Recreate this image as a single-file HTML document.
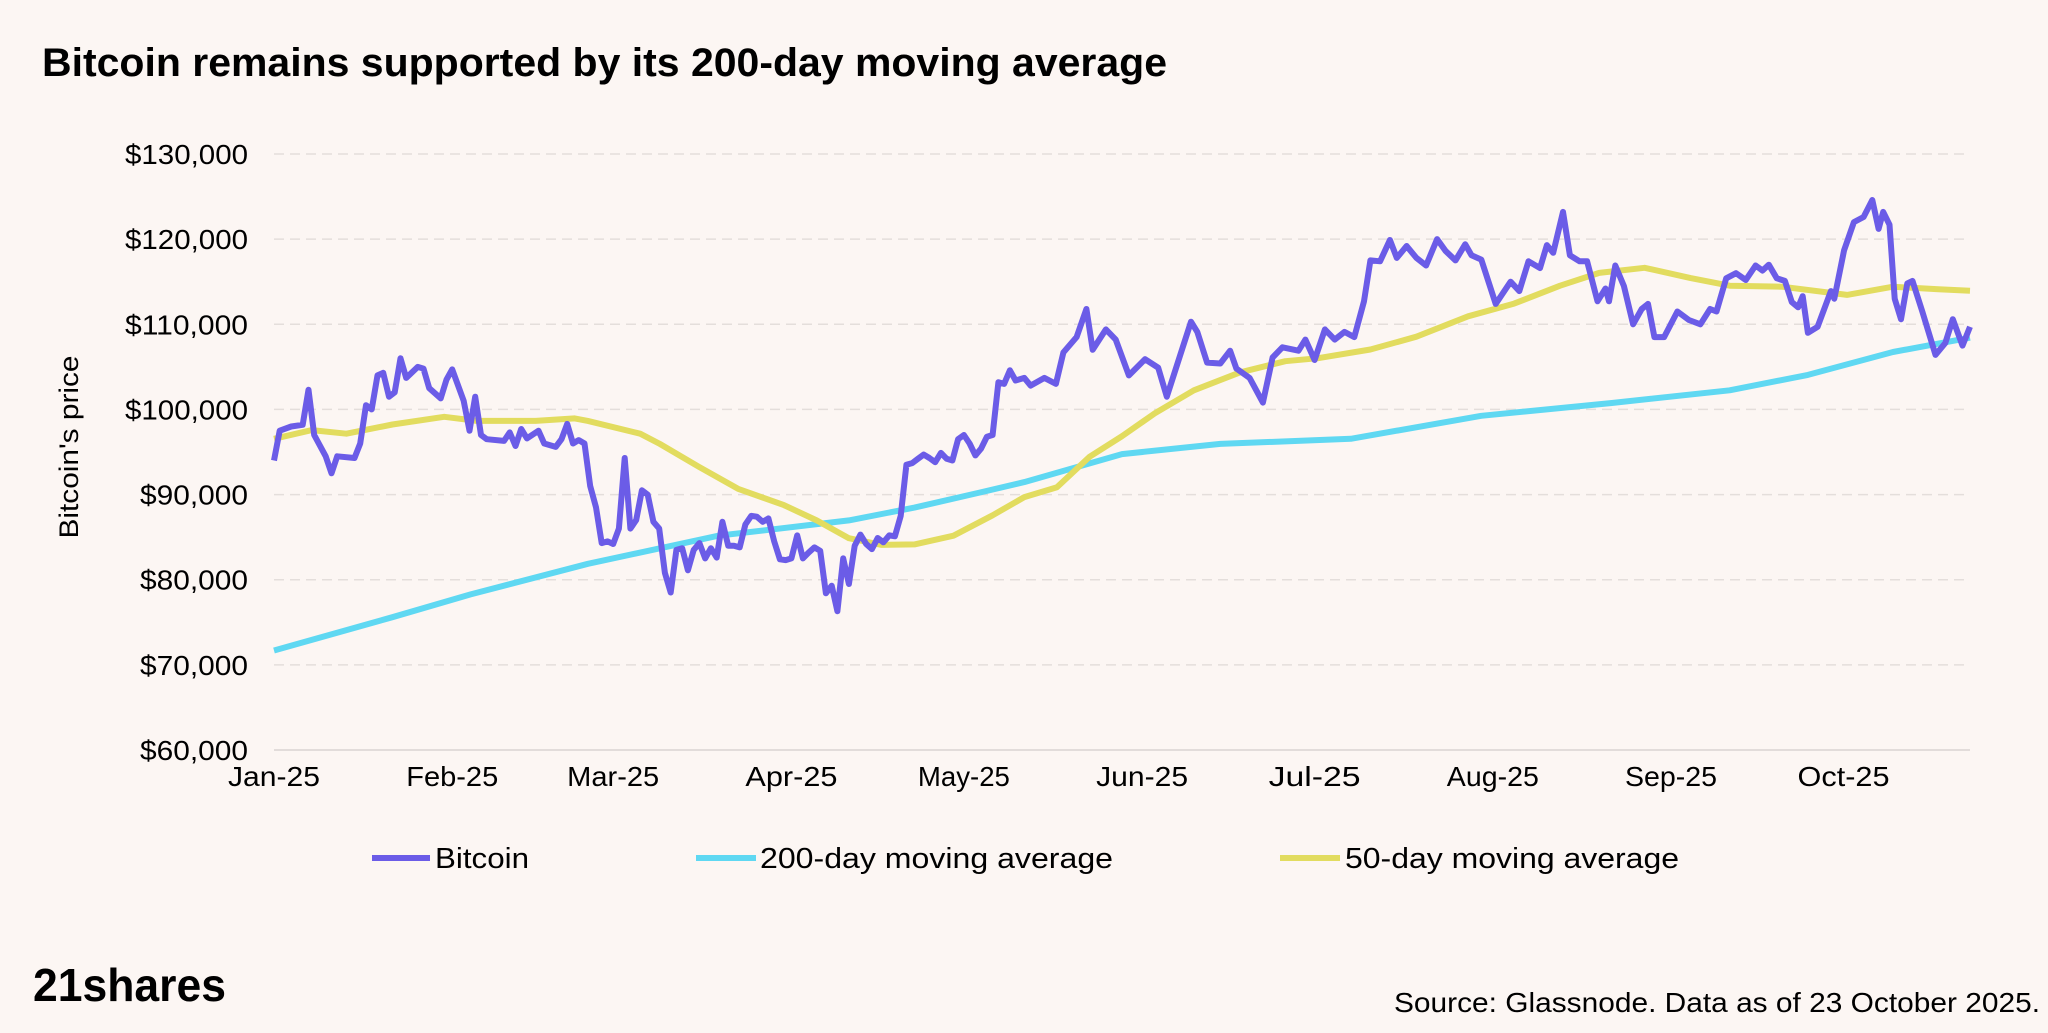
<!DOCTYPE html>
<html><head><meta charset="utf-8"><style>
html,body{margin:0;padding:0;background:#fcf6f3;}
body{width:2048px;height:1028px;overflow:hidden;font-family:"Liberation Sans",sans-serif;}
</style></head><body>
<svg width="2048" height="1028" xmlns="http://www.w3.org/2000/svg">
<rect width="2048" height="1028" fill="#fcf6f3"/>
<text x="42" y="76" font-size="40" font-weight="bold" fill="#000" textLength="1125" lengthAdjust="spacingAndGlyphs">Bitcoin remains supported by its 200-day moving average</text>
<g id="grid"></g>
<g id="yticks"></g>
<g id="xticks"></g>
<text transform="translate(78,447) rotate(-90)" text-anchor="middle" font-size="27" fill="#000" textLength="183" lengthAdjust="spacingAndGlyphs">Bitcoin's price</text>
<g id="series"></g>
<g>
<g><line x1="372" y1="858" x2="430" y2="858" stroke="#6b5ce7" stroke-width="6"/><text x="435" y="868" font-size="29" textLength="94" lengthAdjust="spacingAndGlyphs">Bitcoin</text></g>
<g><line x1="696" y1="858" x2="756" y2="858" stroke="#5fd8f2" stroke-width="6"/><text x="760" y="868" font-size="29" textLength="353" lengthAdjust="spacingAndGlyphs">200-day moving average</text></g>
<g><line x1="1280" y1="858" x2="1340" y2="858" stroke="#e2dc5f" stroke-width="6"/><text x="1345" y="868" font-size="29" textLength="334" lengthAdjust="spacingAndGlyphs">50-day moving average</text></g>
</g>
<text x="33" y="1001" font-size="46" font-weight="bold" fill="#000" textLength="193" lengthAdjust="spacingAndGlyphs">21shares</text>
<text x="2040" y="1012" text-anchor="end" font-size="28" fill="#000" textLength="646" lengthAdjust="spacingAndGlyphs">Source: Glassnode. Data as of 23 October 2025.</text>
</svg>
<script>
const yTicks=[60000,70000,80000,90000,100000,110000,120000,130000];
const xTickLabels=["Jan-25","Feb-25","Mar-25","Apr-25","May-25","Jun-25","Jul-25","Aug-25","Sep-25","Oct-25"];
const xTickDays=[0,31,59,90,120,151,181,212,243,273];
const btcDays=[0,1,3,5,6,7,9,10,11,14,15,16,17,18,19,20,21,22,23,25,26,27,29,30,31,33,34,35,36,37,40,41,42,43,44,46,47,49,50,51,52,53,54,55,56,57,58,59,60,61,62,63,64,65,66,67,68,69,70,71,72,73,74,75,76,77,78,79,80,81,82,83,84,85,86,87,88,89,90,91,92,93,94,95,96,97,98,99,100,101,102,103,104,105,106,107,108,109,110,111,112,113,114,115,116,117,118,119,120,121,122,123,124,125,126,127,128,129,130.5,131.6,134,136,137.3,139.6,141.3,142.4,144.7,146.4,148.7,151.5,153.8,155.3,157.2,159.5,160.6,162.3,164.6,166.3,167.4,169.7,172,173.7,175.4,178.2,179.4,181,182.8,184.5,186.2,187.9,189.6,190.7,192.4,194.1,195.3,197,198.7,200.4,202.3,203.8,205.5,207.2,208.3,210,212.5,215.1,216.6,218.2,220.2,221.4,222.5,224.2,225.4,227.1,228.4,230.2,231.6,232.2,233.3,234.8,236.4,237.9,239,240.1,241.8,244.1,246.1,248.1,249.8,250.9,252.6,254.3,256,257.7,258.9,260,261.4,262.8,264,265.1,265.9,266.8,268.5,270.8,271.4,273.1,274.8,276.5,278,279.1,279.9,281,281.9,283,284.1,285,286.7,289,290.7,292,293.7,295];
const btcValues=[94000,97500,98000,98200,102300,97000,94500,92500,94500,94300,96000,100500,100000,104000,104300,101500,102000,106000,103700,105000,104800,102500,101300,103500,104700,101000,97500,101500,97000,96500,96300,97300,95700,97700,96600,97500,96000,95600,96500,98300,96000,96400,96000,91000,88500,84300,84500,84200,86000,94300,86000,87000,90500,90000,86800,86000,80800,78500,83500,83700,81100,83500,84300,82500,83700,82600,86800,84000,84000,83800,86500,87500,87400,86800,87200,84500,82400,82300,82500,85200,82500,83200,83800,83400,78400,79300,76300,82500,79500,84000,85300,84200,83600,84900,84400,85200,85100,87500,93500,93700,94200,94700,94300,93800,94900,94200,94000,96500,97000,96000,94600,95400,96800,97000,103200,103000,104600,103400,103700,102800,103700,103000,106700,108500,111800,107000,109400,108200,104000,105900,104900,101500,105500,110300,109100,105500,105400,106900,104800,103700,100800,106100,107300,106900,108200,105800,109400,108200,109100,108500,112700,117500,117400,119900,117800,119200,117800,116900,120000,118600,117500,119400,118100,117600,112400,115000,113900,117400,116600,119300,118400,123200,118100,117400,117400,112700,114200,112700,116900,114500,110000,111800,112400,108500,108500,111500,110500,110000,111800,111500,115400,116000,115200,116900,116300,117000,115400,115100,112600,112000,113300,109000,109700,113900,113000,118700,122000,122600,124600,121200,123200,121700,113000,110600,114800,115100,111500,106400,107800,110600,107500,109700];
const ma200Days=[0,20.6,34.2,54.6,77.3,100,111.4,122.8,130.5,147.5,164.6,187.3,210,232.7,253.2,266.8,281.6,295];
const ma200Values=[71690,75600,78280,81870,85170,86970,88470,90240,91460,94750,95950,96550,99250,100750,102250,104050,106740,108420];
const ma50Days=[0,6.6,12.6,20.6,29.6,35.3,45.5,52.3,54.6,63.7,67.1,73.9,80.7,88.7,94.4,100,105.7,111.4,118.2,125,130.5,136.2,141.9,147.5,153.2,160,168,175.9,181.6,190.7,198.7,207.7,215.7,223.7,230.5,238.4,246.4,253.2,262.3,273.6,281.6,289.5,295];
const ma50Values=[96550,97570,97150,98230,99130,98650,98650,98950,98650,97150,95950,93260,90680,88760,86970,84870,84090,84150,85170,87570,89700,90860,94460,96860,99550,102250,104350,105660,106020,107040,108540,110940,112430,114530,116030,116630,115430,114530,114410,113450,114410,114110,113930];

const X0=274,X1=1970,DAYS=295,Y0=750,Y1=154,VMIN=60000,VMAX=130000;
const xs=d=>X0+(d/DAYS)*(X1-X0);
const ys=v=>Y0-(v-VMIN)/(VMAX-VMIN)*(Y0-Y1);
const NS="http://www.w3.org/2000/svg";
const grid=document.getElementById('grid'),yt=document.getElementById('yticks'),xt=document.getElementById('xticks'),ser=document.getElementById('series');
yTicks.forEach((v,i)=>{
  const l=document.createElementNS(NS,'line');
  l.setAttribute('x1',X0);l.setAttribute('x2',X1);l.setAttribute('y1',ys(v));l.setAttribute('y2',ys(v));
  l.setAttribute('stroke',i===0?'#d9d4d2':'#e4dedb');l.setAttribute('stroke-width','1.5');
  if(i>0)l.setAttribute('stroke-dasharray','10,6');
  
  
  grid.appendChild(l);
  const t=document.createElementNS(NS,'text');
  const s='$'+v.toLocaleString('en-US');
  t.setAttribute('x',248);t.setAttribute('y',ys(v)+10);t.setAttribute('text-anchor','end');t.setAttribute('font-size','28');
  t.setAttribute('textLength',(15.4*s.length).toFixed(0));t.setAttribute('lengthAdjust','spacingAndGlyphs');
  t.textContent=s;
  
  
  yt.appendChild(t);
});
xTickLabels.forEach((s,i)=>{
  const t=document.createElementNS(NS,'text');
  t.setAttribute('x',xs(xTickDays[i]));t.setAttribute('y',786);t.setAttribute('text-anchor','middle');t.setAttribute('font-size','28');
  t.setAttribute('textLength',(15.4*s.length).toFixed(0));t.setAttribute('lengthAdjust','spacingAndGlyphs');
  t.textContent=s;
  
  
  xt.appendChild(t);
});
function line(days,vals,color,name){
  const p=document.createElementNS(NS,'polyline');
  p.setAttribute('points',days.map((d,i)=>xs(d).toFixed(1)+','+ys(vals[i]).toFixed(1)).join(' '));
  p.setAttribute('fill','none');p.setAttribute('stroke',color);p.setAttribute('stroke-width','6');p.setAttribute('stroke-linejoin','round');
  
  
  ser.appendChild(p);
}
line(ma200Days,ma200Values,'#5fd8f2','ma200-line');
line(ma50Days,ma50Values,'#e2dc5f','ma50-line');
line(btcDays,btcValues,'#6b5ce7','bitcoin-line');
</script>
</body></html>
